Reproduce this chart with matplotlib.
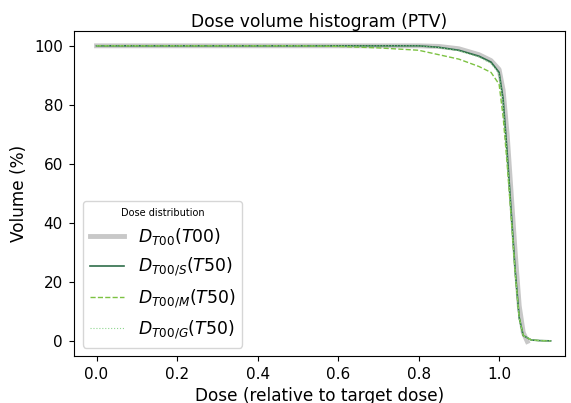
import numpy as np
import matplotlib.pyplot as plt

# Dose (relative to target dose) and volume (%)
dose_t00 = [0.0, 0.5, 0.8, 0.85, 0.9, 0.95, 0.98, 1.0, 1.01, 1.02, 1.03, 1.04, 1.05, 1.06, 1.07]
vol_t00 = [100, 100, 100, 99.8, 99.0, 97.0, 95.0, 92.0, 85.0, 70.0, 50.0, 30.0, 12.0, 3.0, 0.0]

dose_s = [0.0, 0.5, 0.8, 0.85, 0.9, 0.95, 0.98, 1.0, 1.01, 1.02, 1.03, 1.04, 1.05, 1.06, 1.08, 1.1, 1.128]
vol_s = [100, 100, 100, 99.5, 98.5, 96.5, 94.5, 91.0, 82.0, 64.0, 44.0, 24.0, 8.0, 2.0, 0.5, 0.3, 0.2]

dose_m = [0.0, 0.5, 0.6, 0.7, 0.8, 0.85, 0.9, 0.95, 0.98, 1.0, 1.01, 1.02, 1.03, 1.04, 1.05, 1.06, 1.08, 1.1, 1.128]
vol_m = [100, 100, 99.8, 99.3, 98.5, 97.0, 95.5, 93.0, 91.0, 87.0, 76.0, 60.0, 42.0, 23.0, 8.0, 2.0, 0.5, 0.3, 0.2]

dose_g = dose_s
vol_g = [100, 100, 100, 99.4, 98.3, 96.2, 94.0, 90.5, 81.0, 63.0, 43.0, 23.0, 7.5, 2.0, 0.5, 0.3, 0.2]

fig, ax = plt.subplots(figsize=(5.71, 4.03), dpi=100)
fig.subplots_adjust(left=0.1296, right=0.989, bottom=0.116, top=0.923)

ax.plot(dose_t00, vol_t00, color='#c8c8c8', lw=3.5, label=r'$D_{T00}(T00)$')
ax.plot(dose_s, vol_s, color='#2f6e4a', lw=1.2, label=r'$D_{T00/S}(T50)$')
ax.plot(dose_m, vol_m, color='#7cc242', lw=1.0, ls='--', label=r'$D_{T00/M}(T50)$')
ax.plot(dose_g, vol_g, color='#8fd68f', lw=0.8, ls=':', label=r'$D_{T00/G}(T50)$')

ax.set_xlim(-0.056, 1.163)
ax.set_ylim(-5, 105)
ax.set_xlabel('Dose (relative to target dose)', fontsize=12.2, labelpad=3)
ax.set_ylabel('Volume (%)', fontsize=12.2)
ax.set_title('Dose volume histogram (PTV)', fontsize=12.3, pad=3)
ax.tick_params(labelsize=11, pad=4.5)
leg = ax.legend(loc='lower left', title='Dose distribution', fontsize=12.4, title_fontsize=7)

fig.savefig('out.png', dpi=100)
